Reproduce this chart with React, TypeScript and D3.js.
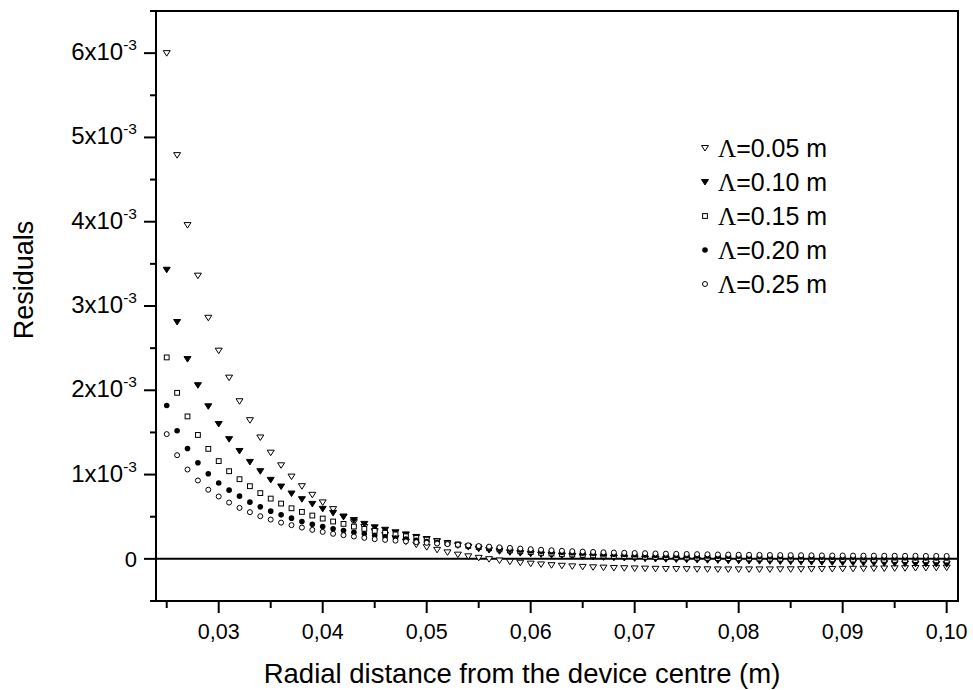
import React from 'react';
import * as d3 from 'd3';

const X = [0.025,0.026,0.027,0.028,0.029,0.030,0.031,0.032,0.033,0.034,0.035,0.036,0.037,0.038,0.039,0.040,0.041,0.042,0.043,0.044,0.045,0.046,0.047,0.048,0.049,0.050,0.051,0.052,0.053,0.054,0.055,0.056,0.057,0.058,0.059,0.060,0.061,0.062,0.063,0.064,0.065,0.066,0.067,0.068,0.069,0.070,0.071,0.072,0.073,0.074,0.075,0.076,0.077,0.078,0.079,0.080,0.081,0.082,0.083,0.084,0.085,0.086,0.087,0.088,0.089,0.090,0.091,0.092,0.093,0.094,0.095,0.096,0.097,0.098,0.099,0.100];

// residuals in units of 1e-3
const L005 = [6.00,4.79,3.96,3.36,2.86,2.47,2.15,1.87,1.645,1.44,1.26,1.11,0.976,0.862,0.76,0.67,0.59,0.50,0.435,0.378,0.327,0.285,0.245,0.205,0.168,0.139,0.107,0.077,0.05,0.03,0.012,-0.004,-0.02,-0.034,-0.046,-0.057,-0.066,-0.075,-0.082,-0.089,-0.095,-0.1,-0.104,-0.108,-0.111,-0.114,-0.116,-0.118,-0.12,-0.121,-0.122,-0.123,-0.124,-0.125,-0.125,-0.125,-0.125,-0.125,-0.125,-0.124,-0.124,-0.123,-0.122,-0.121,-0.12,-0.119,-0.118,-0.117,-0.115,-0.114,-0.112,-0.111,-0.109,-0.108,-0.106,-0.104];
const L010 = [3.43,2.81,2.37,2.06,1.81,1.60,1.42,1.28,1.15,1.04,0.937,0.858,0.775,0.708,0.652,0.593,0.545,0.50,0.46,0.415,0.374,0.345,0.315,0.29,0.26,0.235,0.21,0.185,0.16,0.14,0.12,0.105,0.09,0.078,0.068,0.06,0.052,0.045,0.039,0.033,0.028,0.023,0.018,0.014,0.01,0.006,0.002,-0.001,-0.004,-0.007,-0.01,-0.013,-0.016,-0.018,-0.021,-0.023,-0.025,-0.027,-0.029,-0.031,-0.033,-0.035,-0.037,-0.039,-0.041,-0.043,-0.045,-0.047,-0.049,-0.051,-0.053,-0.055,-0.057,-0.059,-0.061,-0.063];
const L015 = [2.39,1.97,1.69,1.47,1.305,1.16,1.04,0.945,0.862,0.78,0.715,0.656,0.60,0.557,0.514,0.478,0.443,0.415,0.383,0.356,0.332,0.31,0.29,0.268,0.248,0.228,0.208,0.19,0.172,0.155,0.14,0.126,0.113,0.101,0.09,0.08,0.072,0.064,0.058,0.052,0.047,0.042,0.038,0.034,0.031,0.028,0.025,0.023,0.02,0.018,0.016,0.014,0.012,0.01,0.009,0.007,0.005,0.004,0.002,0.001,0.0,-0.002,-0.003,-0.004,-0.006,-0.007,-0.008,-0.009,-0.011,-0.012,-0.013,-0.014,-0.016,-0.017,-0.018,-0.02];
const L020 = [1.82,1.52,1.31,1.14,1.01,0.90,0.815,0.744,0.673,0.617,0.566,0.522,0.483,0.443,0.41,0.383,0.356,0.336,0.316,0.297,0.277,0.262,0.248,0.234,0.22,0.206,0.193,0.178,0.166,0.154,0.143,0.133,0.123,0.114,0.105,0.097,0.09,0.084,0.078,0.073,0.068,0.063,0.059,0.055,0.051,0.048,0.045,0.043,0.041,0.039,0.037,0.035,0.034,0.032,0.031,0.03,0.029,0.027,0.026,0.025,0.024,0.023,0.022,0.021,0.02,0.019,0.018,0.017,0.016,0.015,0.014,0.013,0.012,0.011,0.011,0.01];
const L025 = [1.48,1.23,1.06,0.93,0.82,0.74,0.668,0.605,0.554,0.506,0.466,0.43,0.40,0.371,0.344,0.32,0.297,0.281,0.265,0.249,0.234,0.225,0.216,0.207,0.198,0.19,0.182,0.175,0.167,0.16,0.152,0.145,0.137,0.13,0.122,0.115,0.108,0.102,0.096,0.091,0.086,0.082,0.078,0.075,0.072,0.069,0.067,0.064,0.062,0.06,0.058,0.056,0.054,0.052,0.051,0.049,0.048,0.047,0.046,0.045,0.044,0.043,0.042,0.041,0.04,0.04,0.039,0.038,0.038,0.037,0.037,0.036,0.036,0.035,0.035,0.034];

const seriesNames = ['0.05', '0.10', '0.15', '0.20', '0.25'];
const seriesValues = [L005, L010, L015, L020, L025];
const seriesSymbols = ['triOpen', 'triFilled', 'squareOpen', 'circleFilled', 'circleOpen'];

const yTickValues = [0, 1, 2, 3, 4, 5, 6];
const yTickMantissa = ['0', '1x10', '2x10', '3x10', '4x10', '5x10', '6x10'];
const yTickExponent = ['', '-3', '-3', '-3', '-3', '-3', '-3'];
const yMinorValues = [-0.5, 0.5, 1.5, 2.5, 3.5, 4.5, 5.5, 6.5];
const xTickValues = [0.03, 0.04, 0.05, 0.06, 0.07, 0.08, 0.09, 0.10];
const xTickLabels = ['0,03', '0,04', '0,05', '0,06', '0,07', '0,08', '0,09', '0,10'];
const xMinorValues = [0.025, 0.035, 0.045, 0.055, 0.065, 0.075, 0.085, 0.095];

const FONT = '"Liberation Sans", Arial, sans-serif';
const L = 156, R = 958, T = 11, B = 601;

const x = d3.scaleLinear().domain([0.02397, 0.10109]).range([L, R]);
const y = d3.scaleLinear().domain([-0.5, 6.5]).range([B, T]);

function Marker({ kind, cx, cy }: { kind: string; cx: number; cy: number }) {
  if (kind === 'triOpen' || kind === 'triFilled') {
    const p = d3.path();
    p.moveTo(cx - 3.5, cy - 2.5);
    p.lineTo(cx + 3.5, cy - 2.5);
    p.lineTo(cx, cy + 3);
    p.closePath();
    return <path d={p.toString()} fill={kind === 'triFilled' ? '#000' : '#fff'} stroke="#000" strokeWidth={1} />;
  }
  if (kind === 'squareOpen') {
    return <rect x={cx - 2.4} y={cy - 2.4} width={4.8} height={4.8} fill="#fff" stroke="#000" strokeWidth={1} />;
  }
  if (kind === 'circleFilled') {
    return <circle cx={cx} cy={cy} r={2.8} fill="#000" stroke="none" />;
  }
  return <circle cx={cx} cy={cy} r={2.5} fill="#fff" stroke="#000" strokeWidth={1} />;
}

export default function App() {
  const legendX = 705;
  const legendY0 = 148;
  const legendDy = 34;
  return (
    <svg width={973} height={690} style={{ position: 'absolute', left: 0, top: 0, background: '#fff' }} fontFamily={FONT}>
      <rect x={0} y={0} width={973} height={690} fill="#fff" />
      {/* zero line */}
      <line x1={L} x2={R} y1={y(0)} y2={y(0)} stroke="#000" strokeWidth={2} />
      {/* data */}
      {seriesValues.map((vals, si) => (
        <g key={si}>
          {vals.map((v, i) => (
            <Marker key={i} kind={seriesSymbols[si]} cx={x(X[i])} cy={y(v)} />
          ))}
        </g>
      ))}
      {/* frame */}
      <rect x={L} y={T} width={R - L} height={B - T} fill="none" stroke="#000" strokeWidth={2} />
      {/* y ticks */}
      {yTickValues.map((v) => (
        <line key={'yt' + v} x1={L - 12} x2={L} y1={y(v)} y2={y(v)} stroke="#000" strokeWidth={2} />
      ))}
      {yMinorValues.map((v) => (
        <line key={'ym' + v} x1={L - 6} x2={L} y1={y(v)} y2={y(v)} stroke="#000" strokeWidth={2} />
      ))}
      {yTickValues.map((v, i) => (
        <text key={'yl' + v} x={137} y={y(v) + (yTickExponent[i] ? 7 : 8)} textAnchor="end" fontSize={yTickExponent[i] ? 24 : 22}>
          <tspan>{yTickMantissa[i]}</tspan>
          {yTickExponent[i] ? <tspan dy={-10} fontSize={15.5}>{yTickExponent[i]}</tspan> : null}
        </text>
      ))}
      {/* x ticks */}
      {xTickValues.map((v) => (
        <line key={'xt' + v} x1={x(v)} x2={x(v)} y1={B} y2={B + 12} stroke="#000" strokeWidth={2} />
      ))}
      {xMinorValues.map((v) => (
        <line key={'xm' + v} x1={x(v)} x2={x(v)} y1={B} y2={B + 7} stroke="#000" strokeWidth={2} />
      ))}
      {xTickValues.map((v, i) => (
        <text key={'xl' + v} x={x(v)} y={639} textAnchor="middle" fontSize={21.5}>{xTickLabels[i]}</text>
      ))}
      {/* axis titles */}
      <text x={522} y={683} textAnchor="middle" fontSize={27.5}>Radial distance from the device centre (m)</text>
      <text transform={`translate(33, 280) rotate(-90)`} textAnchor="middle" fontSize={27}>Residuals</text>
      {/* legend */}
      {seriesNames.map((n, i) => (
        <g key={'lg' + i}>
          <Marker kind={seriesSymbols[i]} cx={legendX} cy={legendY0 + i * legendDy} />
          <text x={legendX + 13} y={legendY0 + i * legendDy + 9} fontSize={25}>
            <tspan fontFamily='"Liberation Serif", "Times New Roman", serif'>Λ</tspan>
            <tspan>=0.{n.split('.')[1]} m</tspan>
          </text>
        </g>
      ))}
    </svg>
  );
}
